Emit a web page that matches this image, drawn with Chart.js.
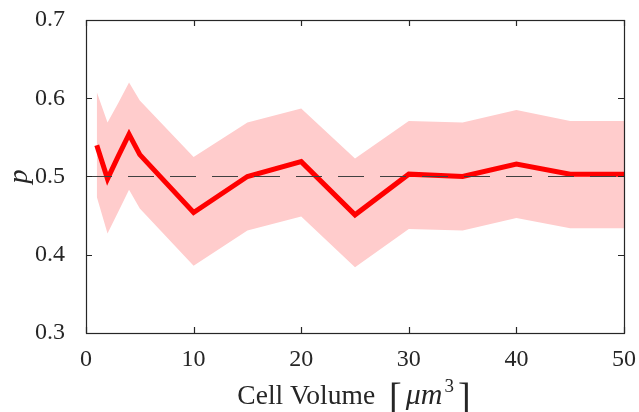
<!DOCTYPE html>
<html>
<head>
<meta charset="utf-8">
<script src="https://cdn.jsdelivr.net/npm/chart.js@4"></script>
<style>
  html, body { margin: 0; padding: 0; background: #fff; }
  #wrap { width: 639px; height: 412px; }
</style>
</head>
<body>
<div id="wrap"><canvas id="chart" width="639" height="412"></canvas></div>
<script>
// cell volume (um^3) and the estimated p with its band
const volumes = [1, 2, 3, 4, 5, 10, 15, 20, 25, 30, 35, 40, 45, 50];
const pMean  = [0.540, 0.497, 0.526, 0.554, 0.528, 0.454, 0.500, 0.519, 0.451, 0.503, 0.500, 0.516, 0.503, 0.503];
const pUpper = [0.608, 0.569, 0.594, 0.620, 0.597, 0.525, 0.569, 0.587, 0.523, 0.571, 0.569, 0.585, 0.571, 0.571];
const pLower = [0.474, 0.427, 0.455, 0.483, 0.459, 0.386, 0.431, 0.449, 0.384, 0.433, 0.431, 0.447, 0.434, 0.434];
const refX = [0, 50];
const refP = [0.5, 0.5];
const xTicks = [0, 10, 20, 30, 40, 50];
const yTicks = [0.3, 0.4, 0.5, 0.6, 0.7];

const SERIF = '"Liberation Serif", "DejaVu Serif", serif';
const AXIS = '#262626';

const pts = (xs, ys) => xs.map((x, i) => ({ x, y: ys[i] }));

// box with inward ticks on all four sides, plus axis titles
const boxPlugin = {
  id: 'box',
  afterDraw(chart) {
    const { ctx, chartArea: a, scales } = chart;
    ctx.save();
    ctx.strokeStyle = AXIS;
    ctx.lineWidth = 1.2;
    ctx.strokeRect(a.left + 0.5, a.top + 0.5, a.right - a.left, a.bottom - a.top);
    const len = 6;
    ctx.beginPath();
    xTicks.forEach((v) => {
      const x = Math.round(scales.x.getPixelForValue(v)) + 0.5;
      ctx.moveTo(x, a.bottom); ctx.lineTo(x, a.bottom - len);
      ctx.moveTo(x, a.top); ctx.lineTo(x, a.top + len);
    });
    yTicks.forEach((v) => {
      const y = Math.round(scales.y.getPixelForValue(v)) + 0.5;
      ctx.moveTo(a.left, y); ctx.lineTo(a.left + len, y);
      ctx.moveTo(a.right, y); ctx.lineTo(a.right - len, y);
    });
    ctx.stroke();

    ctx.fillStyle = AXIS;
    ctx.textBaseline = 'alphabetic';
    const parts = [
      { t: 'Cell Volume', f: `27.5px ${SERIF}`, dy: 0, gap: 14 },
      { t: '[', f: `38px ${SERIF}`, dy: 5, gap: 4 },
      { t: 'μm', f: `italic 30px ${SERIF}`, dy: 0, gap: 2 },
      { t: '3', f: `19px ${SERIF}`, dy: -12, gap: 4 },
      { t: ']', f: `38px ${SERIF}`, dy: 5, gap: 0 }
    ];
    let total = 0;
    parts.forEach((p) => { ctx.font = p.f; p.w = ctx.measureText(p.t).width; total += p.w + p.gap; });
    let x = 354 - total / 2;
    const base = 404;
    parts.forEach((p) => {
      ctx.font = p.f;
      ctx.fillText(p.t, x, base + p.dy);
      x += p.w + p.gap;
    });

    ctx.translate(27, (a.top + a.bottom) / 2);
    ctx.rotate(-Math.PI / 2);
    ctx.font = `italic 28px ${SERIF}`;
    ctx.textAlign = 'center';
    ctx.fillText('p', 0, 0);
    ctx.restore();
  }
};

new Chart(document.getElementById('chart'), {
  type: 'line',
  data: {
    datasets: [
      {
        data: pts(refX, refP),
        borderColor: '#404040',
        borderWidth: 1.2,
        borderDash: [26, 16],
        pointRadius: 0,
        fill: false
      },
      {
        data: pts(volumes, pMean),
        borderColor: '#ff0000',
        borderWidth: 5,
        borderCapStyle: 'butt',
        borderJoinStyle: 'miter',
        pointRadius: 0,
        fill: false
      },
      {
        data: pts(volumes, pUpper),
        borderWidth: 0,
        borderColor: 'rgba(0,0,0,0)',
        backgroundColor: 'rgb(255,204,204)',
        pointRadius: 0,
        fill: '+1'
      },
      {
        data: pts(volumes, pLower),
        borderWidth: 0,
        borderColor: 'rgba(0,0,0,0)',
        pointRadius: 0,
        fill: false
      }
    ]
  },
  options: {
    responsive: false,
    animation: false,
    layout: { padding: { left: 0, top: 20, right: 15, bottom: 0 } },
    plugins: { legend: { display: false }, tooltip: { enabled: false } },
    scales: {
      x: {
        type: 'linear',
        min: 0,
        max: 50,
        afterBuildTicks: (s) => { s.ticks = xTicks.map((v) => ({ value: v })); },
        afterFit: (s) => { s.height = 79; s.paddingLeft = 0; s.paddingRight = 0; },
        grid: { display: false },
        border: { display: false },
        ticks: { color: AXIS, font: { family: SERIF, size: 24 }, padding: 4, maxRotation: 0 }
      },
      y: {
        min: 0.3,
        max: 0.7,
        afterBuildTicks: (s) => { s.ticks = yTicks.map((v) => ({ value: v })); },
        afterFit: (s) => { s.width = 86; s.paddingTop = 0; s.paddingBottom = 0; },
        grid: { display: false },
        border: { display: false },
        ticks: { color: AXIS, font: { family: SERIF, size: 24 }, padding: 13, callback: (v) => v.toFixed(1) }
      }
    }
  },
  plugins: [boxPlugin]
});
</script>
</body>
</html>
